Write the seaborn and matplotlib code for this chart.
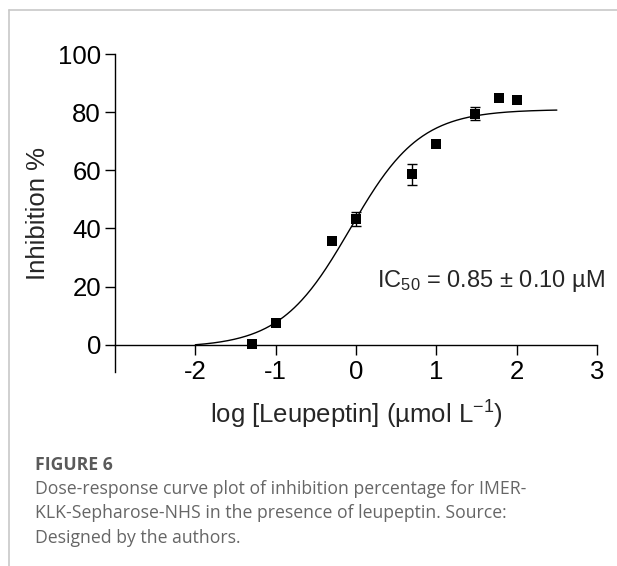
import numpy as np
import pandas as pd
import matplotlib
matplotlib.use("Agg")
import matplotlib.pyplot as plt
from matplotlib.lines import Line2D
import seaborn as sns

# measured points (log concentration in umol/L vs % inhibition)
log_conc = [-1.30, -1.00, -0.30, 0.00, 0.70, 1.00, 1.48, 1.78, 2.00]
inhibition = [0.3, 7.6, 35.8, 43.3, 58.6, 69.2, 79.6, 85.0, 84.4]
sem = [0.0, 0.0, 0.0, 2.3, 3.7, 0.0, 2.4, 0.0, 0.0]

# 4PL fit parameters
fit_bottom = -1.0
fit_top = 81.0
fit_log_ic50 = np.log10(0.85)
fit_hill = 1.0
fit_range = (-2.0, 2.5)

x_ticks = [-2, -1, 0, 1, 2, 3]
y_ticks = [0, 20, 40, 60, 80, 100]

caption_title = "FIGURE 6"
caption_lines = [
    "Dose-response curve plot of inhibition percentage for IMER-",
    "KLK-Sepharose-NHS in the presence of leupeptin. Source:",
    "Designed by the authors.",
]

sns.set_style("ticks")
plt.rcParams["font.family"] = ["Liberation Sans", "DejaVu Sans"]
plt.rcParams["mathtext.fontset"] = "custom"
plt.rcParams["mathtext.rm"] = "Liberation Sans"
plt.rcParams["mathtext.it"] = "Liberation Sans:italic"
plt.rcParams["mathtext.bf"] = "Liberation Sans:bold"

df = pd.DataFrame({"log_conc": log_conc, "inhibition": inhibition, "sem": sem})

xs = np.linspace(fit_range[0], fit_range[1], 300)
curve = pd.DataFrame({
    "x": xs,
    "y": fit_bottom + (fit_top - fit_bottom) / (1 + 10 ** ((fit_log_ic50 - xs) * fit_hill)),
})

fig = plt.figure(figsize=(6.17, 5.66), dpi=100)
ax = fig.add_axes([0.1864, 0.3424, 0.7812, 0.5617])

sns.lineplot(data=curve, x="x", y="y", color="black", linewidth=1.0, ax=ax)

err = df[df["sem"] > 0]
ax.errorbar(err["log_conc"], err["inhibition"], yerr=err["sem"], fmt="none",
            ecolor="black", elinewidth=1.0, capsize=3.6, capthick=1.0, zorder=3)
sns.scatterplot(data=df, x="log_conc", y="inhibition", marker="s", s=58,
                color="black", edgecolor="black", linewidth=0, ax=ax, zorder=4)

ax.set_xlim(-3, 3)
ax.set_ylim(-9.5, 100)
ax.set_xticks(x_ticks)
ax.set_yticks(y_ticks)
ax.set_xticklabels([str(t) for t in x_ticks])

ax.spines["top"].set_visible(False)
ax.spines["right"].set_visible(False)
ax.spines["bottom"].set_position(("data", 0))
for side in ["left", "bottom"]:
    ax.spines[side].set_linewidth(1.0)
    ax.spines[side].set_color("black")
ax.tick_params(axis="both", direction="out", length=7, width=1.0,
               labelsize=18.5, colors="black")
ax.tick_params(axis="x", pad=4)
ax.tick_params(axis="y", pad=3)

ax.set_xlabel("log [Leupeptin] (µmol L$^{-1}$)", fontsize=18.5)
ax.set_ylabel("Inhibition %", fontsize=18.5, labelpad=6)
ax.xaxis.set_label_coords(0.5, -0.085)

ax.text(1.68, 21.9, "IC$_{50}$ = 0.85 ± 0.10 µM", fontsize=17,
        ha="center", va="center")

# page frame lines
fig.add_artist(Line2D([9 / 617, 9 / 617], [0, 1 - 10 / 566], color="#c8c8c8", linewidth=1.2))
fig.add_artist(Line2D([9 / 617, 1], [1 - 10 / 566, 1 - 10 / 566], color="#c8c8c8", linewidth=1.2))

fig.text(35 / 617, 1 - 465 / 566, caption_title, fontsize=12.7, fontweight="bold",
         color="#5a5a5a", family=["Open Sans", "DejaVu Sans"], va="center")
for i, line in enumerate(caption_lines):
    fig.text(35 / 617, 1 - (489 + 24.5 * i) / 566, line, fontsize=12.7,
             color="#666666", family=["Open Sans", "DejaVu Sans"], va="center")

fig.savefig("out.png", dpi=100)
